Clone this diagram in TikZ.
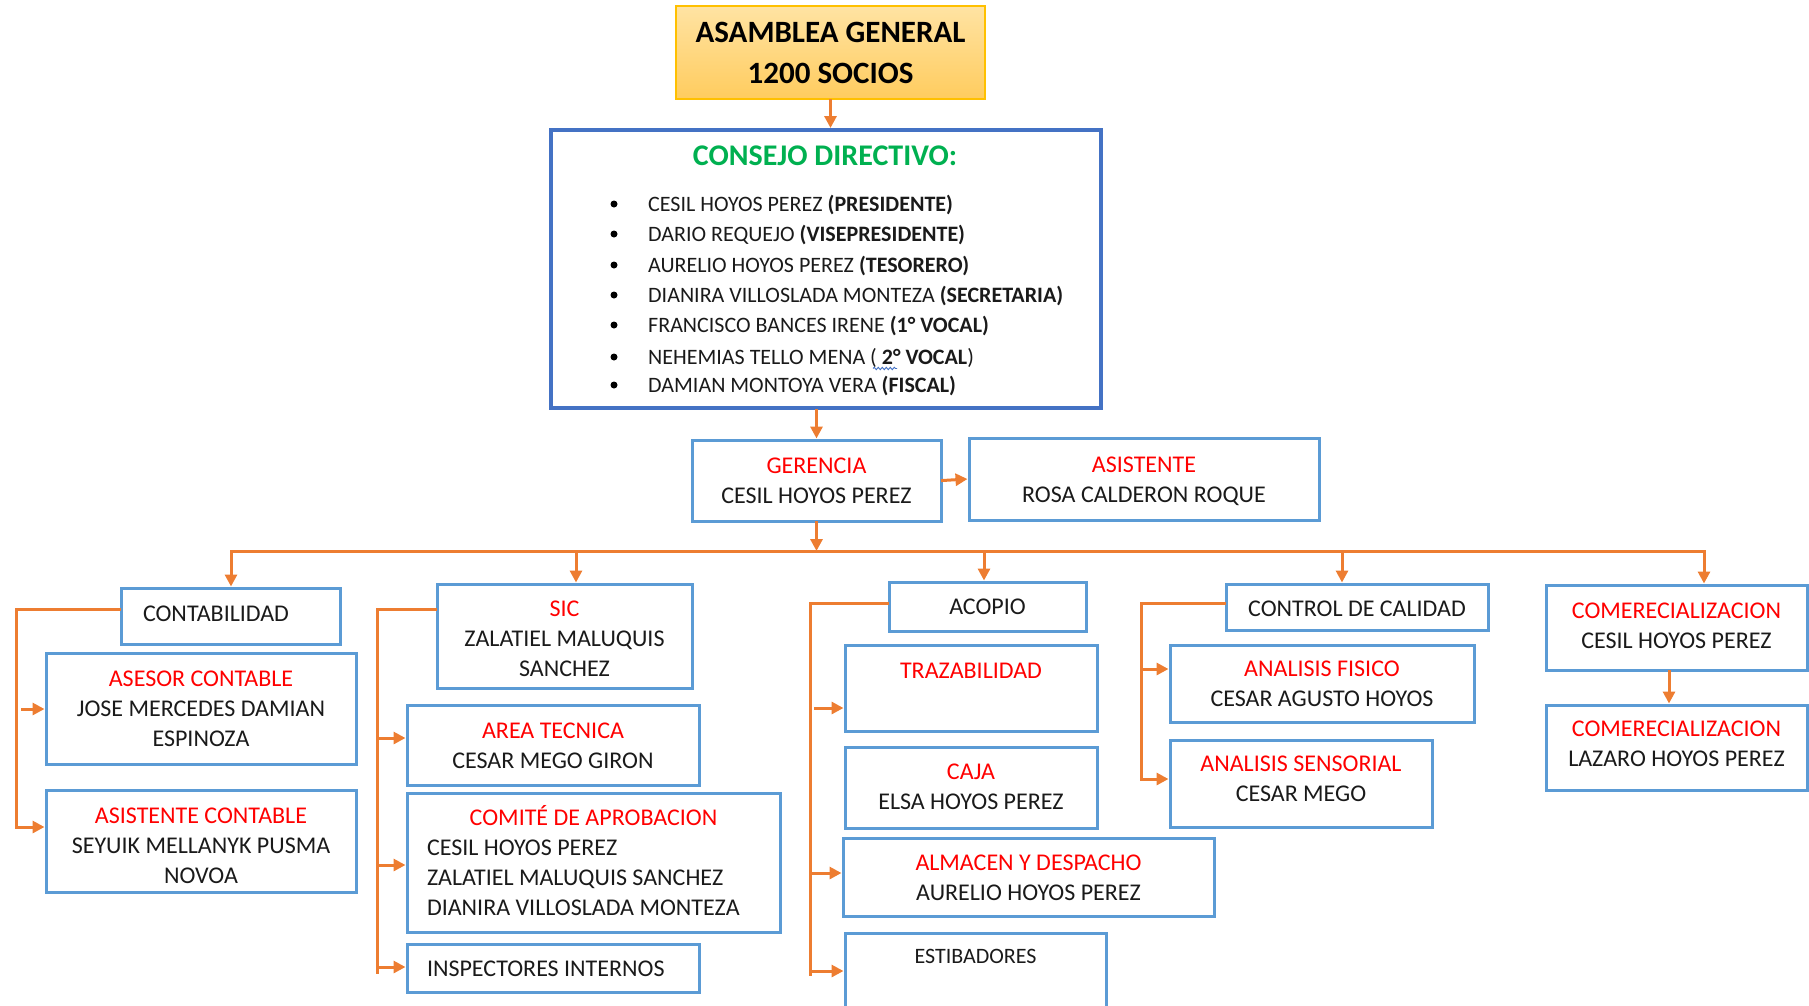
\documentclass[tikz,border=0pt]{standalone}
\usepackage{fontspec}
\setmainfont{Carlito}
\usetikzlibrary{arrows.meta,decorations.pathmorphing}
\definecolor{boxblue}{HTML}{5B9BD5}
\definecolor{consblue}{HTML}{4472C4}
\definecolor{arrorange}{HTML}{ED7D31}
\definecolor{titlegreen}{HTML}{00B050}
\definecolor{asamtop}{HTML}{FFE3A3}
\definecolor{asambot}{HTML}{FFCC5E}
\definecolor{asamedge}{HTML}{FFC000}
\definecolor{txtred}{HTML}{FF0000}
\definecolor{txtblack}{HTML}{1A1A1A}
\newcommand\redtxt[1]{\textcolor{txtred}{#1}}
\newcommand\tx[2]{\raisebox{0pt}[\dimexpr\height+#1*2\relax][\depth]{\begin{tabular}{@{}c@{}}#2\end{tabular}}}
\begin{document}
\begin{tikzpicture}[x=1pt,y=-1pt,
  box/.style={draw=boxblue, line width=3pt, rectangle, inner sep=0pt, text=txtblack, font=\fontsize{24}{30}\selectfont},
  link/.style={draw=arrorange, line width=3pt, line cap=rect},
  arr/.style={link, -{Triangle[length=12pt,width=12pt]}},
  listtxt/.style={anchor=base west, inner sep=0pt, text=txtblack, font=\fontsize{22}{26}\selectfont},
  dot/.style={circle, fill=black, inner sep=0pt, minimum size=7pt},
  asambox/.style={draw=asamedge, line width=2pt, top color=asamtop, bottom color=asambot, inner sep=0pt, align=center, font=\bfseries\fontsize{31}{41}\selectfont},
]
\useasboundingbox (0,0) rectangle (1809,1005);
\clip (0,0) rectangle (1809,1005);

% top
\node[asambox, minimum width=309pt, minimum height=93pt] (asam) at (830.5,52.5) {ASAMBLEA GENERAL\\1200 SOCIOS};
\node[draw=consblue, line width=4pt, minimum width=550pt, minimum height=278pt, inner sep=0pt] (cons) at (826,269) {};
\node[inner sep=0pt, text=titlegreen, font=\bfseries\fontsize{30}{34}\selectfont] (constitle) at (825,156) {CONSEJO DIRECTIVO:};

\node[dot] (d1) at (614,204) {};
\node[dot] (d2) at (614,234) {};
\node[dot] (d3) at (614,265) {};
\node[dot] (d4) at (614,295) {};
\node[dot] (d5) at (614,325) {};
\node[dot] (d6) at (614,357) {};
\node[dot] (d7) at (614,385) {};
\node[listtxt] (l1) at (648,211.5) {CESIL HOYOS PEREZ \textbf{(PRESIDENTE)}};
\node[listtxt] (l2) at (648,241.5) {DARIO REQUEJO \textbf{(VISEPRESIDENTE)}};
\node[listtxt] (l3) at (648,272.5) {AURELIO HOYOS PEREZ \textbf{(TESORERO)}};
\node[listtxt] (l4) at (648,302.5) {DIANIRA VILLOSLADA MONTEZA \textbf{(SECRETARIA)}};
\node[listtxt] (l5) at (648,332.5) {FRANCISCO BANCES IRENE \textbf{(1° VOCAL)}};
\node[listtxt] (l6) at (648,364.5) {NEHEMIAS TELLO MENA ( \textbf{2° VOCAL})};
\node[listtxt] (l7) at (648,392.5) {DAMIAN MONTOYA VERA \textbf{(FISCAL)}};
\draw[consblue, line width=0.9pt, decorate, decoration={snake, amplitude=1.2pt, segment length=4pt}] (873,368.5) -- (897,368.5);

\node[box, minimum width=249pt, minimum height=81pt] (ger) at (816.5,480.5) {\tx{2.3pt}{\redtxt{GERENCIA}\\CESIL HOYOS PEREZ}};
\node[box, minimum width=350pt, minimum height=82pt] (asis) at (1144,479) {\tx{2.7pt}{\redtxt{ASISTENTE}\\ROSA CALDERON ROQUE}};

\draw[arr] (asam.south) -- (asam.south |- cons.north);
\draw[arr] (ger.north |- cons.south) -- (ger.north);
\draw[arr] (ger.east) -- (asis.west);

% bus
\coordinate (b1) at (231,551);
\coordinate (b2) at (576,551);
\coordinate (b3) at (984,551);
\coordinate (b4) at (1342,551);
\coordinate (b5) at (1704,551);
\draw[arr] (ger.south) -- (ger.south |- b1);
\draw[link] (b1) -- (b5);

% columns
\node[box, minimum width=219pt, minimum height=56pt] (contab) at (230.5,616) {\tx{-0.5pt}{CONTABILIDAD\hspace*{29pt}}};
\node[box, minimum width=310pt, minimum height=111pt] (asesor) at (201,708.5) {\tx{1.7pt}{\redtxt{ASESOR CONTABLE}\\JOSE MERCEDES DAMIAN\\ESPINOZA}};
\node[box, minimum width=310pt, minimum height=102pt] (asiscont) at (201,841) {\tx{6pt}{\redtxt{ASISTENTE CONTABLE}\\SEYUIK MELLANYK PUSMA\\NOVOA}};

\node[box, minimum width=255pt, minimum height=104pt] (sic) at (564.5,636) {\tx{4.9pt}{\redtxt{SIC}\\ZALATIEL MALUQUIS\\SANCHEZ}};
\node[box, minimum width=292pt, minimum height=80pt] (area) at (553,745) {\tx{2pt}{\redtxt{AREA TECNICA}\\CESAR MEGO GIRON}};
\node[box, minimum width=373pt, minimum height=139pt] (comite) at (593.5,862.5) {\tx{2.2pt}{\makebox[333pt][c]{\redtxt{COMITÉ DE APROBACION}}\\\makebox[333pt][l]{CESIL HOYOS PEREZ}\\\makebox[333pt][l]{ZALATIEL MALUQUIS SANCHEZ}\\\makebox[333pt][l]{DIANIRA VILLOSLADA MONTEZA}}};
\node[box, minimum width=292pt, minimum height=48pt] (insp) at (553,968) {\tx{2.7pt}{\makebox[252pt][l]{INSPECTORES INTERNOS}}};

\node[box, minimum width=197pt, minimum height=49pt] (acopio) at (987.5,606.5) {\tx{2.1pt}{ACOPIO}};
\node[box, minimum width=252pt, minimum height=86pt] (traz) at (971,688) {\tx{-1pt}{\redtxt{TRAZABILIDAD}\\\mbox{}}};
\node[box, minimum width=252pt, minimum height=81pt] (caja) at (971,787.5) {\tx{1pt}{\redtxt{CAJA}\\ELSA HOYOS PEREZ}};
\node[box, minimum width=371pt, minimum height=78pt] (almacen) at (1028.5,877) {\tx{2.7pt}{\redtxt{ALMACEN Y DESPACHO}\\AURELIO HOYOS PEREZ}};
\node[box, minimum width=261pt, minimum height=107pt] (estib) at (975.5,986.5) {};
\node[inner sep=0pt, text=txtblack, font=\fontsize{22}{26}\selectfont] (estibtxt) at (975.5,956) {ESTIBADORES};

\node[box, minimum width=262pt, minimum height=46pt] (cc) at (1357,607) {\tx{3.9pt}{CONTROL DE CALIDAD}};
\node[box, minimum width=304pt, minimum height=77pt] (fis) at (1322,683.5) {\tx{2.3pt}{\redtxt{ANALISIS FISICO}\\CESAR AGUSTO HOYOS}};
\node[box, minimum width=262pt, minimum height=87pt] (sens) at (1301,783.5) {\tx{-3.1pt}{\redtxt{ANALISIS SENSORIAL}\\CESAR MEGO}};

\node[box, minimum width=261pt, minimum height=85pt] (com1) at (1676.5,627.5) {\tx{0.1pt}{\redtxt{COMERECIALIZACION}\\CESIL HOYOS PEREZ}};
\node[box, minimum width=261pt, minimum height=85pt] (com2) at (1676.5,747.5) {\tx{-2.2pt}{\redtxt{COMERECIALIZACION}\\LAZARO HOYOS PEREZ}};

% bus drops
\draw[arr] (b1) -- (b1 |- contab.north);
\draw[arr] (b2) -- (b2 |- sic.north);
\draw[arr] (b3) -- (b3 |- acopio.north);
\draw[arr] (b4) -- (b4 |- cc.north);
\draw[arr] (b5) -- (b5 |- com1.north);

% contabilidad branch
\coordinate (c0) at (16,609);
\coordinate (c1) at (16,827);
\coordinate (c2) at (22,709);
\draw[arr] (contab.west |- c0) -- (c0) -- (c1) -- (asiscont.west |- c1);
\draw[arr] (c2) -- (asesor.west |- c2);

% sic branch
\coordinate (s0) at (377,609);
\coordinate (s1) at (377,738);
\coordinate (s2) at (377,865);
\coordinate (s3) at (377,967);
\coordinate (s4) at (377,972);
\draw[link] (sic.west |- s0) -- (s0) -- (s4);
\draw[arr] (s1) -- (area.west |- s1);
\draw[arr] (s2) -- (comite.west |- s2);
\draw[arr] (s3) -- (insp.west |- s3);

% acopio branch
\coordinate (a0) at (810,603);
\coordinate (a1) at (815,708);
\coordinate (a2) at (810,873);
\coordinate (a3) at (810,971);
\coordinate (a4) at (810,974);
\draw[link] (acopio.west |- a0) -- (a0) -- (a4);
\draw[arr] (a1) -- (traz.west |- a1);
\draw[arr] (a2) -- (almacen.west |- a2);
\draw[arr] (a3) -- (estib.west |- a3);

% control de calidad branch
\coordinate (q0) at (1141,603);
\coordinate (q1) at (1141,669);
\coordinate (q2) at (1141,779);
\draw[arr] (cc.west |- q0) -- (q0) -- (q2) -- (sens.west |- q2);
\draw[arr] (q1) -- (fis.west |- q1);

% comercializacion
\coordinate (m0) at (1669,0);
\draw[arr] (m0 |- com1.south) -- (m0 |- com2.north);
\end{tikzpicture}
\end{document}
